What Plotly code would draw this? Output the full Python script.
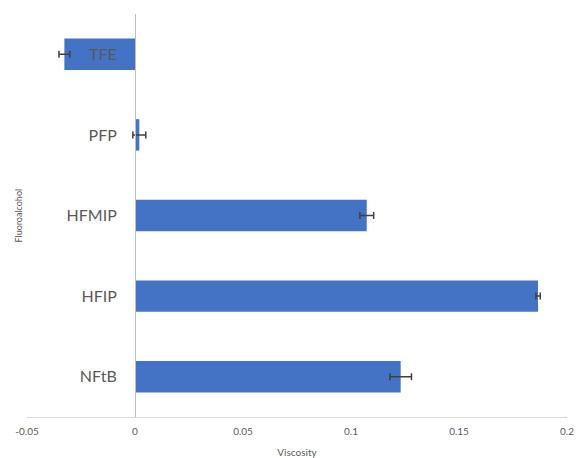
import plotly.graph_objects as go

categories = ["NFtB", "HFIP", "HFMIP", "PFP", "TFE"]
viscosity = [0.123, 0.1866, 0.1073, 0.002, -0.0327]
errors = [0.005, 0.001, 0.0032, 0.003, 0.0025]
x_ticks = [-0.05, 0, 0.05, 0.1, 0.15, 0.2]
x_tick_text = ["-0.05", "0", "0.05", "0.1", "0.15", "0.2"]

W, H = 578, 458
L, R, T, B = 27, 11, 14, 41
pw = W - L - R
zero_frac = (0 - (-0.05)) / 0.25

fig = go.Figure(go.Bar(
    x=viscosity, y=categories, orientation="h",
    marker=dict(color="#4472C4", line=dict(width=0)),
    width=0.39,
    error_x=dict(type="data", array=errors, visible=True,
                 color="#404040", thickness=1.5, width=3.5),
))

fig.update_layout(
    width=W, height=H,
    margin=dict(l=L, r=R, t=T, b=B, autoexpand=False),
    paper_bgcolor="white", plot_bgcolor="white",
    showlegend=False,
    xaxis=dict(range=[-0.05, 0.2], tickvals=x_ticks, ticktext=x_tick_text,
               automargin=False, ticklabeloverflow="allow",
               showgrid=False, zeroline=False, showline=True,
               linecolor="#d9d9d9", linewidth=1, ticks="",
               ticklabelstandoff=5,
               tickfont=dict(family="Lato, sans-serif", size=10, color="#595959"),
               title=dict(text="Viscosity", standoff=12,
                          font=dict(family="Lato, sans-serif", size=10, color="#595959"))),
    yaxis=dict(categoryorder="array", categoryarray=categories,
               range=[-0.5, 4.5], anchor="free", position=zero_frac,
               automargin=False,
               showgrid=False, zeroline=False, showline=True,
               linecolor="#bfbfbf", linewidth=1, ticks="",
               ticklabelstandoff=15,
               tickfont=dict(family="Lato, sans-serif", size=16, color="#595959")),
    annotations=[dict(text="Fluoroalcohol", textangle=-90,
                      xref="paper", yref="paper",
                      x=(18 - L) / pw, y=0.5, showarrow=False,
                      xanchor="center", yanchor="middle",
                      font=dict(family="Lato, sans-serif", size=9, color="#595959"))],
)

fig.write_html(
    "out.html",
    config={"displayModeBar": False},
    post_script=("document.body.style.margin='0';"
                 "document.body.style.overflow='hidden';"
                 "document.documentElement.style.overflow='hidden';"),
)
